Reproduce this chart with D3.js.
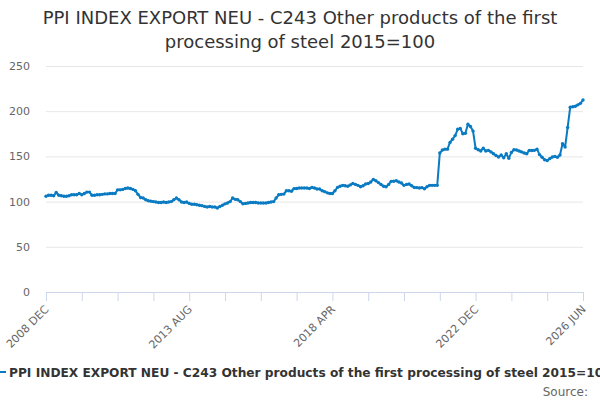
<!DOCTYPE html>
<html>
<head>
<meta charset="utf-8">
<script src="https://cdn.jsdelivr.net/npm/d3@7"></script>
<style>
  body { margin: 0; background: #fff; }
  svg { display: block; font-family: "DejaVu Sans", sans-serif; }
</style>
</head>
<body>
<svg id="chart" width="600" height="400"></svg>
<script>
// Datos: índice mensual, desde 2008 DEC hasta 2026 JUN
const firstMonth = new Date(2008, 11, 1);
const lastMonth = new Date(2026, 5, 1);

const values = [
  106, 107, 107, 106.5, 110, 107, 106.5, 106, 106, 106.5,
  107.5, 107.5, 107.5, 109, 107.5, 109, 110.5, 110.5, 107, 107,
  107.5, 107.5, 108, 108.5, 108.5, 109, 109, 109, 113, 113,
  113.5, 114.5, 115, 114.5, 113.5, 112, 108, 104.5, 104, 102,
  101, 100.5, 100, 99.5, 99, 99, 99.5, 99, 99.5, 100,
  102, 104, 102, 99.5, 99, 99.5, 98, 97, 97, 96.5,
  96, 95.5, 94.7, 94, 94.5, 94, 94, 93, 94.5, 96,
  97.5, 98.5, 100, 104, 102.5, 102, 100, 97.7, 98, 98.5,
  99, 99, 99, 98.5, 98.5, 98.5, 98.5, 99, 99.5, 100,
  104, 107.5, 108, 108.3, 112, 112, 111.5, 114.4, 114.5, 115,
  115, 115, 115, 114.5, 115.7, 115, 114, 114, 112, 111,
  109.7, 109, 109, 112, 115.7, 117, 118, 117.5, 117, 118.5,
  120, 119, 118, 116.5, 117.5, 119.4, 120, 121.6, 124.6, 123,
  121, 119, 117, 116.4, 119, 122.4, 122.5, 123, 121.6, 120.5,
  118, 119, 119.4, 117.5, 115.7, 115.5, 115, 115.5, 114.2, 116.5,
  118, 118, 118, 118, 153.7, 157, 158, 158, 165.5, 169,
  173, 180, 181, 175, 175.5, 185.5, 183, 178, 159, 157.4,
  156, 159, 156, 156.7, 155, 153, 151, 149.3, 151.5, 148.5,
  153, 148, 154.4, 157.4, 157, 156, 155, 153.7, 153, 156.7,
  156.5, 156.7, 158, 152, 149, 146.3, 145.5, 147.5, 149.3, 150,
  149, 151.5, 164, 160.4, 182, 204.5, 205, 205.5, 207, 208.7,
  212.4
];

const yTicks = [0, 50, 100, 150, 200, 250];
const xTickLabels = ["2008 DEC", "2013 AUG", "2018 APR", "2022 DEC", "2026 JUN"];

const titulo = ["PPI INDEX EXPORT NEU - C243 Other products of the first", "processing of steel 2015=100"];
const nombreSerie = "PPI INDEX EXPORT NEU - C243 Other products of the first processing of steel 2015=100";

// Categorías (meses)
const months = d3.timeMonth.range(firstMonth, d3.timeMonth.offset(lastMonth, 1));
const fmt = d => d3.timeFormat("%Y")(d) + " " + d3.timeFormat("%b")(d).toUpperCase();
const categories = months.map(fmt);

const color = "#0a7bc2";
const plotLeft = 46, plotRight = 583, plotTop = 66, plotBottom = 292;

const svg = d3.select("#chart");

const x = d3.scaleLinear().domain([0, categories.length - 1]).range([plotLeft, plotRight]);
const y = d3.scaleLinear().domain([0, 250]).range([plotBottom, plotTop]);

// Título
svg.append("g").selectAll("text")
  .data(titulo)
  .enter().append("text")
  .attr("x", 300)
  .attr("y", (d, i) => 24 + i * 24)
  .attr("text-anchor", "middle")
  .attr("fill", "#333")
  .style("font-size", "18px")
  .text(d => d);

// Rejilla y eje Y
const yAxis = svg.append("g")
  .attr("transform", `translate(${plotLeft},0)`)
  .call(d3.axisLeft(y).tickValues(yTicks).tickSize(-(plotRight - plotLeft)).tickPadding(16));
yAxis.select(".domain").remove();
yAxis.selectAll(".tick line").attr("stroke", "#e6e6e6");
yAxis.selectAll(".tick text").attr("fill", "#666").style("font-size", "11px")
  .style("font-family", "DejaVu Sans, sans-serif");

// Eje X
const tickIdx = d3.range(0, categories.length, 14);
const xAxis = svg.append("g")
  .attr("transform", `translate(0,${plotBottom})`)
  .call(d3.axisBottom(x).tickValues(tickIdx).tickSize(9)
    .tickFormat(i => xTickLabels.includes(categories[i]) ? categories[i] : ""));
xAxis.select(".domain").attr("stroke", "#ccd6eb").attr("d", `M${plotLeft},0.5H${plotRight}`);
xAxis.selectAll(".tick line").attr("stroke", "#ccd6eb");
xAxis.selectAll(".tick text")
  .attr("fill", "#666")
  .style("font-size", "11px")
  .style("font-family", "DejaVu Sans, sans-serif")
  .attr("text-anchor", "end")
  .attr("x", 0)
  .attr("y", 0)
  .attr("dy", 0)
  .attr("transform", "translate(3,18) rotate(-45)");

// Línea
const line = d3.line()
  .x((d, i) => x(i))
  .y(d => y(d));

svg.append("path")
  .datum(values)
  .attr("fill", "none")
  .attr("stroke", color)
  .attr("stroke-width", 2)
  .attr("stroke-linejoin", "round")
  .attr("d", line);

svg.append("g").selectAll("circle")
  .data(values)
  .enter().append("circle")
  .attr("cx", (d, i) => x(i))
  .attr("cy", d => y(d))
  .attr("r", 1.7)
  .attr("fill", color);

// Leyenda
svg.append("line")
  .attr("x1", -8).attr("x2", 6)
  .attr("y1", 372).attr("y2", 372)
  .attr("stroke", color).attr("stroke-width", 2);
svg.append("text")
  .attr("x", 9).attr("y", 377)
  .attr("fill", "#333")
  .style("font-size", "12.2px")
  .style("font-weight", "bold")
  .text(nombreSerie);

svg.append("text")
  .attr("x", 588).attr("y", 396)
  .attr("text-anchor", "end")
  .attr("fill", "#666")
  .style("font-size", "12px")
  .text("Source:");
</script>
</body>
</html>
